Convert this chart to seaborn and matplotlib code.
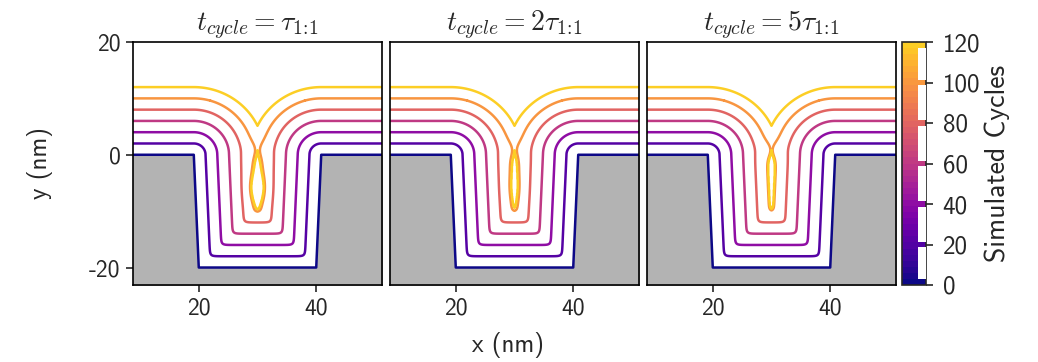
import numpy as np
import matplotlib
matplotlib.use("Agg")
import matplotlib.pyplot as plt
import seaborn as sns
from matplotlib.colors import ListedColormap, Normalize, BoundaryNorm
from matplotlib.cm import ScalarMappable
from matplotlib.patches import Rectangle

# trench profile (nm) and deposition data
profile_x = [0.0, 19.15, 20.0, 40.0, 40.85, 60.0]
profile_y = [0.0, 0.0, -20.0, -20.0, 0.0, 0.0]
growth_per_cycle = 0.1          # nm / cycle
cycle_levels = [0, 20, 40, 60, 80, 100, 120]

panel_titles = [r"$t_{cycle} = \tau_{1\!:\!1}$",
                r"$t_{cycle} = 2\tau_{1\!:\!1}$",
                r"$t_{cycle} = 5\tau_{1\!:\!1}$"]
# relative growth rate change at trench mouth / deep in trench, per panel
neck_boost = [0.05, 0.05, 0.07]
deep_slowdown = [0.10, 0.03, 0.0]

sns.set_style("ticks")
plt.rcParams["font.family"] = ["cmss10", "DejaVu Sans"]
plt.rcParams["mathtext.fontset"] = "cm"
plt.rcParams["axes.unicode_minus"] = False
plt.rcParams["axes.linewidth"] = 1.2
plt.rcParams["xtick.major.width"] = 1.2
plt.rcParams["ytick.major.width"] = 1.2
plt.rcParams["xtick.major.size"] = 5
plt.rcParams["ytick.major.size"] = 5

cmap = ListedColormap(plt.cm.plasma(np.linspace(0, 0.9, 256)))
norm = Normalize(0, 120)

xg = np.linspace(8, 52, 881)
yg = np.linspace(-24, 21, 901)
X, Y = np.meshgrid(xg, yg)


def soft_min(a, b, k):
    m = np.minimum(a, b)
    return m - k * np.log(np.exp(-(a - m) / k) + np.exp(-(b - m) / k))


def profile_distance(X, Y, k=0.35):
    pts = list(zip(profile_x, profile_y))
    ds = []
    for (x0, y0), (x1, y1) in zip(pts[:-1], pts[1:]):
        dx, dy = x1 - x0, y1 - y0
        t = np.clip(((X - x0) * dx + (Y - y0) * dy) / (dx * dx + dy * dy), 0, 1)
        ds.append(np.hypot(X - x0 - t * dx, Y - y0 - t * dy))
    hard = np.min(ds, axis=0)
    # round only the two inner (bottom) corners of the trench
    d = np.minimum.reduce([ds[0], ds[4],
                           soft_min(ds[1], ds[2], k), soft_min(ds[2], ds[3], k)])
    inside = Y < np.interp(X, profile_x, profile_y)
    return np.where(inside, -hard, d)


dist = profile_distance(X, Y)
xc = 0.5 * (profile_x[2] + profile_x[3])
cx = np.exp(-((X - xc) / 2.0) ** 2)


def cycles_field(boost, slow):
    rate = 1 + boost * cx * np.exp(-((Y - 1.0) / 1.8) ** 2) \
             - slow * cx * np.exp(-((Y + 6.0) / 3.0) ** 2)
    T = dist / rate
    # find pinch-off (neck) along the trench centre and close the void
    ic = np.argmin(np.abs(xg - xc))
    col = T[:, ic]
    idx = np.where((yg > -12) & (yg < 0))[0]
    imax = idx[np.argmax(col[idx])]
    idx2 = np.where((yg >= yg[imax]) & (yg < 6))[0]
    ineck = idx2[np.argmin(col[idx2])]
    void = (T > col[ineck]) & (Y < yg[ineck]) & (np.abs(X - xc) < 4) & (Y > -12)
    T = np.where(void, 1e3, T)
    return T / growth_per_cycle


fig = plt.figure(figsize=(10.38, 3.62), dpi=100)
lefts = [133, 390, 647]
for i, left in enumerate(lefts):
    ax = fig.add_axes([left / 1038, 1 - 285 / 362, 249 / 1038, 243 / 362])
    ax.fill_between(profile_x, profile_y, -30, color="0.7", lw=0, zorder=0)
    ax.plot(profile_x, profile_y, color=cmap(norm(cycle_levels[0])), lw=1.8)
    F = cycles_field(neck_boost[i], deep_slowdown[i])
    ax.contour(X, Y, F, levels=cycle_levels[1:],
               colors=[cmap(norm(l)) for l in cycle_levels[1:]],
               linewidths=1.8, linestyles="solid")
    ax.set_xlim(8.8, 51.2)
    ax.set_ylim(-23.1, 20)
    ax.set_xticks([20, 40])
    ax.set_yticks([-20, 0, 20])
    ax.tick_params(labelsize=17, pad=4)
    if i > 0:
        ax.set_yticks([])
    ax.set_title(panel_titles[i], fontsize=20, pad=6)
    for s in ax.spines.values():
        s.set_visible(True)
        s.set_color("black")

fig.text(508 / 1038, 1 - 345 / 362, "x (nm)", ha="center", va="center", fontsize=18)
fig.text(40 / 1038, 1 - 163 / 362, "y (nm)", ha="center", va="center",
         rotation=90, fontsize=18)

cax = fig.add_axes([902 / 1038, 1 - 285 / 362, 24 / 1038, 243 / 362])
bnorm = BoundaryNorm(np.arange(0, 123, 3), cmap.N)
cb = fig.colorbar(ScalarMappable(norm=bnorm, cmap=cmap), cax=cax,
                  ticks=cycle_levels)
cb.minorticks_off()
cb.outline.set_linewidth(1.2)
cax.tick_params(labelsize=18, length=5, width=1.2, pad=7)
cb.set_label("Simulated Cycles", fontsize=20, labelpad=3)
for lo, hi in zip(cycle_levels[:-1], cycle_levels[1:]):
    a = lo + (3 if lo == 0 else 1.3)
    b = hi - (3 if hi == 120 else 1.3)
    cax.add_patch(Rectangle((0.66, a), 0.34, b - a, color="white", lw=0,
                            transform=cax.get_yaxis_transform(), zorder=3))

fig.savefig("out.png", dpi=100)
